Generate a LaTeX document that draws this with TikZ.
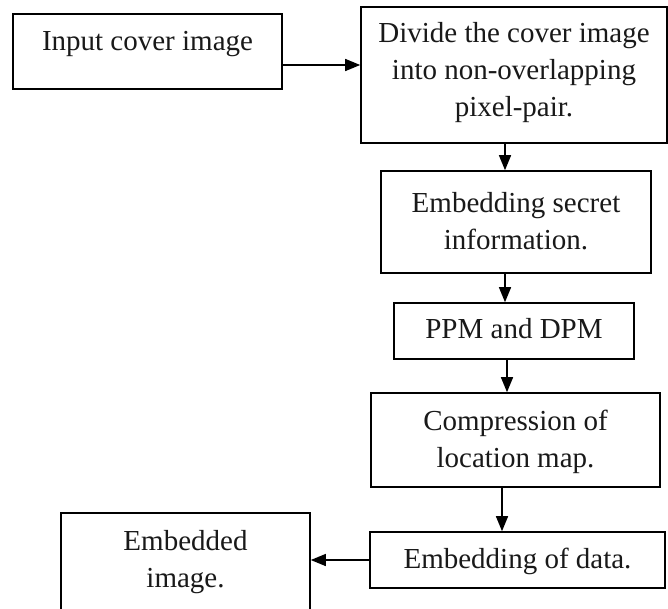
\documentclass[tikz,border=0pt]{standalone}
\usepackage{fontspec}
\setmainfont{Liberation Serif}
\usetikzlibrary{arrows.meta}
\begin{document}
\begin{tikzpicture}[x=1pt,y=-1pt,
  box/.style={draw=black, line width=1.6pt, inner sep=0pt, fill=white},
  txt/.style={font=\fontsize{29}{37}\selectfont, align=center, inner sep=0pt, text=black!90},
  arr/.style={line width=1.4pt, -{Triangle[length=15pt,width=12pt]}}]
\fill[white] (0,0) rectangle (668,608);
\useasboundingbox (0,0) rectangle (668,608);
% boxes
\node[box, minimum width=269pt, minimum height=75pt]  (b1) at (147.5,51.5) {};
\node[box, minimum width=306pt, minimum height=136pt] (b2) at (514,75) {};
\node[box, minimum width=270pt, minimum height=102pt] (b3) at (516,222) {};
\node[box, minimum width=240pt, minimum height=56pt]  (b4) at (514,331) {};
\node[box, minimum width=289pt, minimum height=94pt]  (b5) at (515.5,440) {};
\node[box, minimum width=295pt, minimum height=56pt]  (b6) at (517.5,560) {};
\node[box, minimum width=249pt, minimum height=102pt] (b7) at (185.5,564) {};
% texts
\node[txt, anchor=base] (t1) at (147.5,50) {Input cover image};
\node[txt] (t2) at (514,72.3) {Divide the cover image\\into non-overlapping\\pixel-pair.};
\node[txt] (t3) at (516,221) {Embedding secret\\information.};
\node[txt, anchor=base] (t4) at (514,338) {PPM and DPM};
\node[txt] (t5) at (515.5,441.6) {Compression of\\location map.};
\node[txt, anchor=base] (t6) at (517.5,568) {Embedding of data.};
\node[txt] (t7) at (185.5,562) {Embedded\\image.};
% connectors
\draw[arr] (b1.east |- 0,65) -- (b2.west |- 0,65);
\draw[arr] (b2.south -| 505,0) -- (b3.north -| 505,0);
\draw[arr] (b3.south -| 505,0) -- (b4.north -| 505,0);
\draw[arr] (b4.south -| 507,0) -- (b5.north -| 507,0);
\draw[arr] (b5.south -| 502,0) -- (b6.north -| 502,0);
\draw[arr] (b6.west) -- (b7.east |- b6.west);
\end{tikzpicture}
\end{document}
